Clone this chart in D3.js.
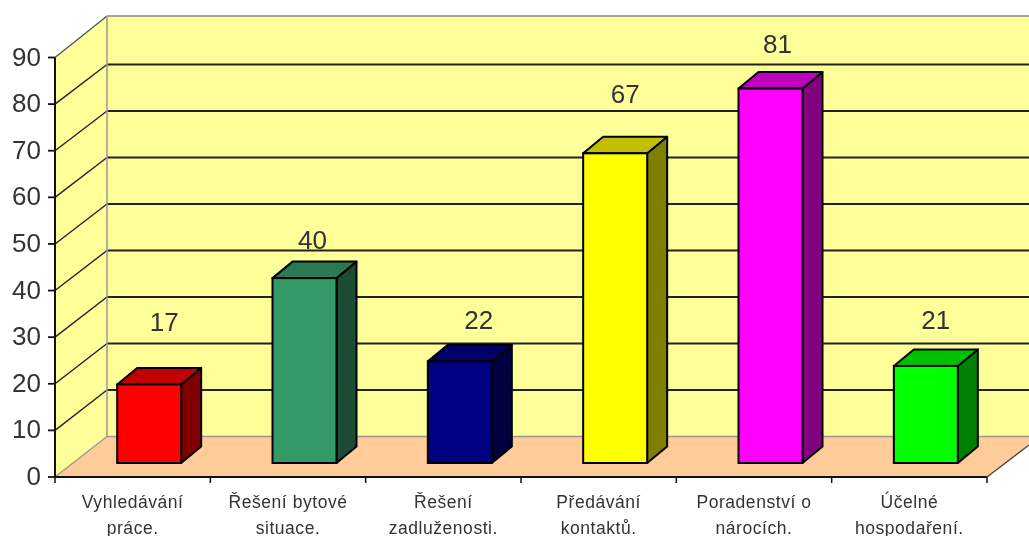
<!DOCTYPE html>
<html><head><meta charset="utf-8">
<script src="https://cdn.jsdelivr.net/npm/d3@7"></script>
<style>
html,body{margin:0;padding:0;background:#fff;overflow:hidden}
svg{display:block;filter:blur(0.5px)}
text{font-family:"Liberation Sans",Arial,sans-serif;fill:#333}
</style></head><body>
<svg id="c" width="1029" height="536"></svg>
<script>
const categories = [["Vyhledávání","práce."],["Řešení bytové","situace."],["Řešení","zadluženosti."],["Předávání","kontaktů."],["Poradenství o","nárocích."],["Účelné","hospodaření."]];
const values = [17,40,22,67,81,21];
const yTicks = [0,10,20,30,40,50,60,70,80,90];
const faceColors = ["#ff0000","#339966","#000080","#ffff00","#ff00ff","#00ff00"];
const topColors = ["#c00000","#297a52","#000066","#c0c000","#c000c0","#00c000"];
const sideColors = ["#800000","#1a4d33","#000040","#808000","#800080","#008000"];

const svg = d3.select("#c");
const X0=55, X1=987, DX=52;
const yFront=d3.scaleLinear().domain([0,90]).range([477,57.5]);
const yBack=d3.scaleLinear().domain([0,90]).range([436.5,18]);
const yBar=d3.scaleLinear().domain([0,90]).range([463,463-416]);
const x=d3.scaleBand().domain(d3.range(categories.length)).range([X0,X1]).paddingInner(0.588).paddingOuter(0.294);
const barShift=16.5, barW=x.bandwidth(), bdx=20, bdy=16.5;
const poly=(sel,pts,fill,stroke,sw)=>sel.append("polygon").attr("points",pts.map(p=>p.join(",")).join(" ")).attr("fill",fill).attr("stroke",stroke||"none").attr("stroke-width",sw||0).attr("stroke-linejoin","round");

// walls and floor
poly(svg,[[X0,yFront(0)],[X0+DX,yBack(0)],[X0+DX,16],[X0,yFront(90)]],"#ffff99");
poly(svg,[[X0+DX,436.5],[1040,436.5],[1040,16],[X0+DX,16]],"#ffff99");
poly(svg,[[X0,477],[X0+DX,436.5],[X1+DX,436.5],[X1,477]],"#ffcc99");

// gridlines
yTicks.filter(t=>t>0).forEach(t=>{
  const top=t===90, col=top?"#888":"#222";
  svg.append("path").attr("d",`M${X0},${yFront(t)}L${X0+DX},${top?16:yBack(t)}`).attr("stroke",top?"#555":"#222").attr("stroke-width",1.4).attr("fill","none");
  svg.append("path").attr("d",`M${X0+DX},${top?16:yBack(t)}H1030`).attr("stroke",col).attr("stroke-width",top?1.5:1.9).attr("fill","none");
});
svg.append("path").attr("d",`M${X0},477L${X0+DX},436.5`).attr("stroke","#999").attr("stroke-width",1.4);
svg.append("path").attr("d",`M${X0+DX},16V436.5H1030`).attr("stroke","#999").attr("stroke-width",1.5).attr("fill","none");

// bars
values.forEach((v,i)=>{
  const g=svg.append("g"), l=x(i)+barShift, r=l+barW, t=yBar(v), b=yBar(0);
  poly(g,[[r,t],[r+bdx,t-bdy],[r+bdx,b-bdy],[r,b]],sideColors[i],"#000",2);
  poly(g,[[l,t],[l+bdx,t-bdy],[r+bdx,t-bdy],[r,t]],topColors[i],"#000",2);
  g.append("rect").attr("x",l).attr("y",t).attr("width",barW).attr("height",b-t).attr("fill",faceColors[i]).attr("stroke","#000").attr("stroke-width",2);
});

// axes
svg.append("path").attr("d",`M${X0},57.5V477H${X1}`).attr("stroke","#111").attr("stroke-width",2).attr("fill","none");
svg.append("path").attr("d",`M${X1},477L${X1+42},445`).attr("stroke","#444").attr("stroke-width",1.3);
yTicks.forEach(t=>{
  svg.append("line").attr("x1",48).attr("x2",X0).attr("y1",yFront(t)).attr("y2",yFront(t)).attr("stroke","#111").attr("stroke-width",1.8);
  svg.append("text").attr("x",41).attr("y",yFront(t)+8).attr("text-anchor","end").attr("font-size",26).text(t);
});
const step=x.step();
d3.range(categories.length+1).forEach(i=>{
  svg.append("line").attr("x1",X0+i*step).attr("x2",X0+i*step).attr("y1",477).attr("y2",483).attr("stroke","#111").attr("stroke-width",1.5);
});
categories.forEach((c,i)=>{
  const cx=x(i)+barW/2;
  c.forEach((s,j)=>svg.append("text").attr("x",cx).attr("y",508+j*25.5).attr("text-anchor","middle").attr("font-size",17.5).attr("letter-spacing",0.55).text(s));
});

// hand-placed value labels, as in the original
const nudgeX=[15,8,19,10,7,10], nudgeY=[53,29,32,50,36,37];
values.forEach((v,i)=>{
  svg.append("text").attr("x",x(i)+barShift+barW/2+nudgeX[i]).attr("y",yBar(v)-nudgeY[i]).attr("text-anchor","middle").attr("font-size",26).text(v);
});
</script></body></html>
